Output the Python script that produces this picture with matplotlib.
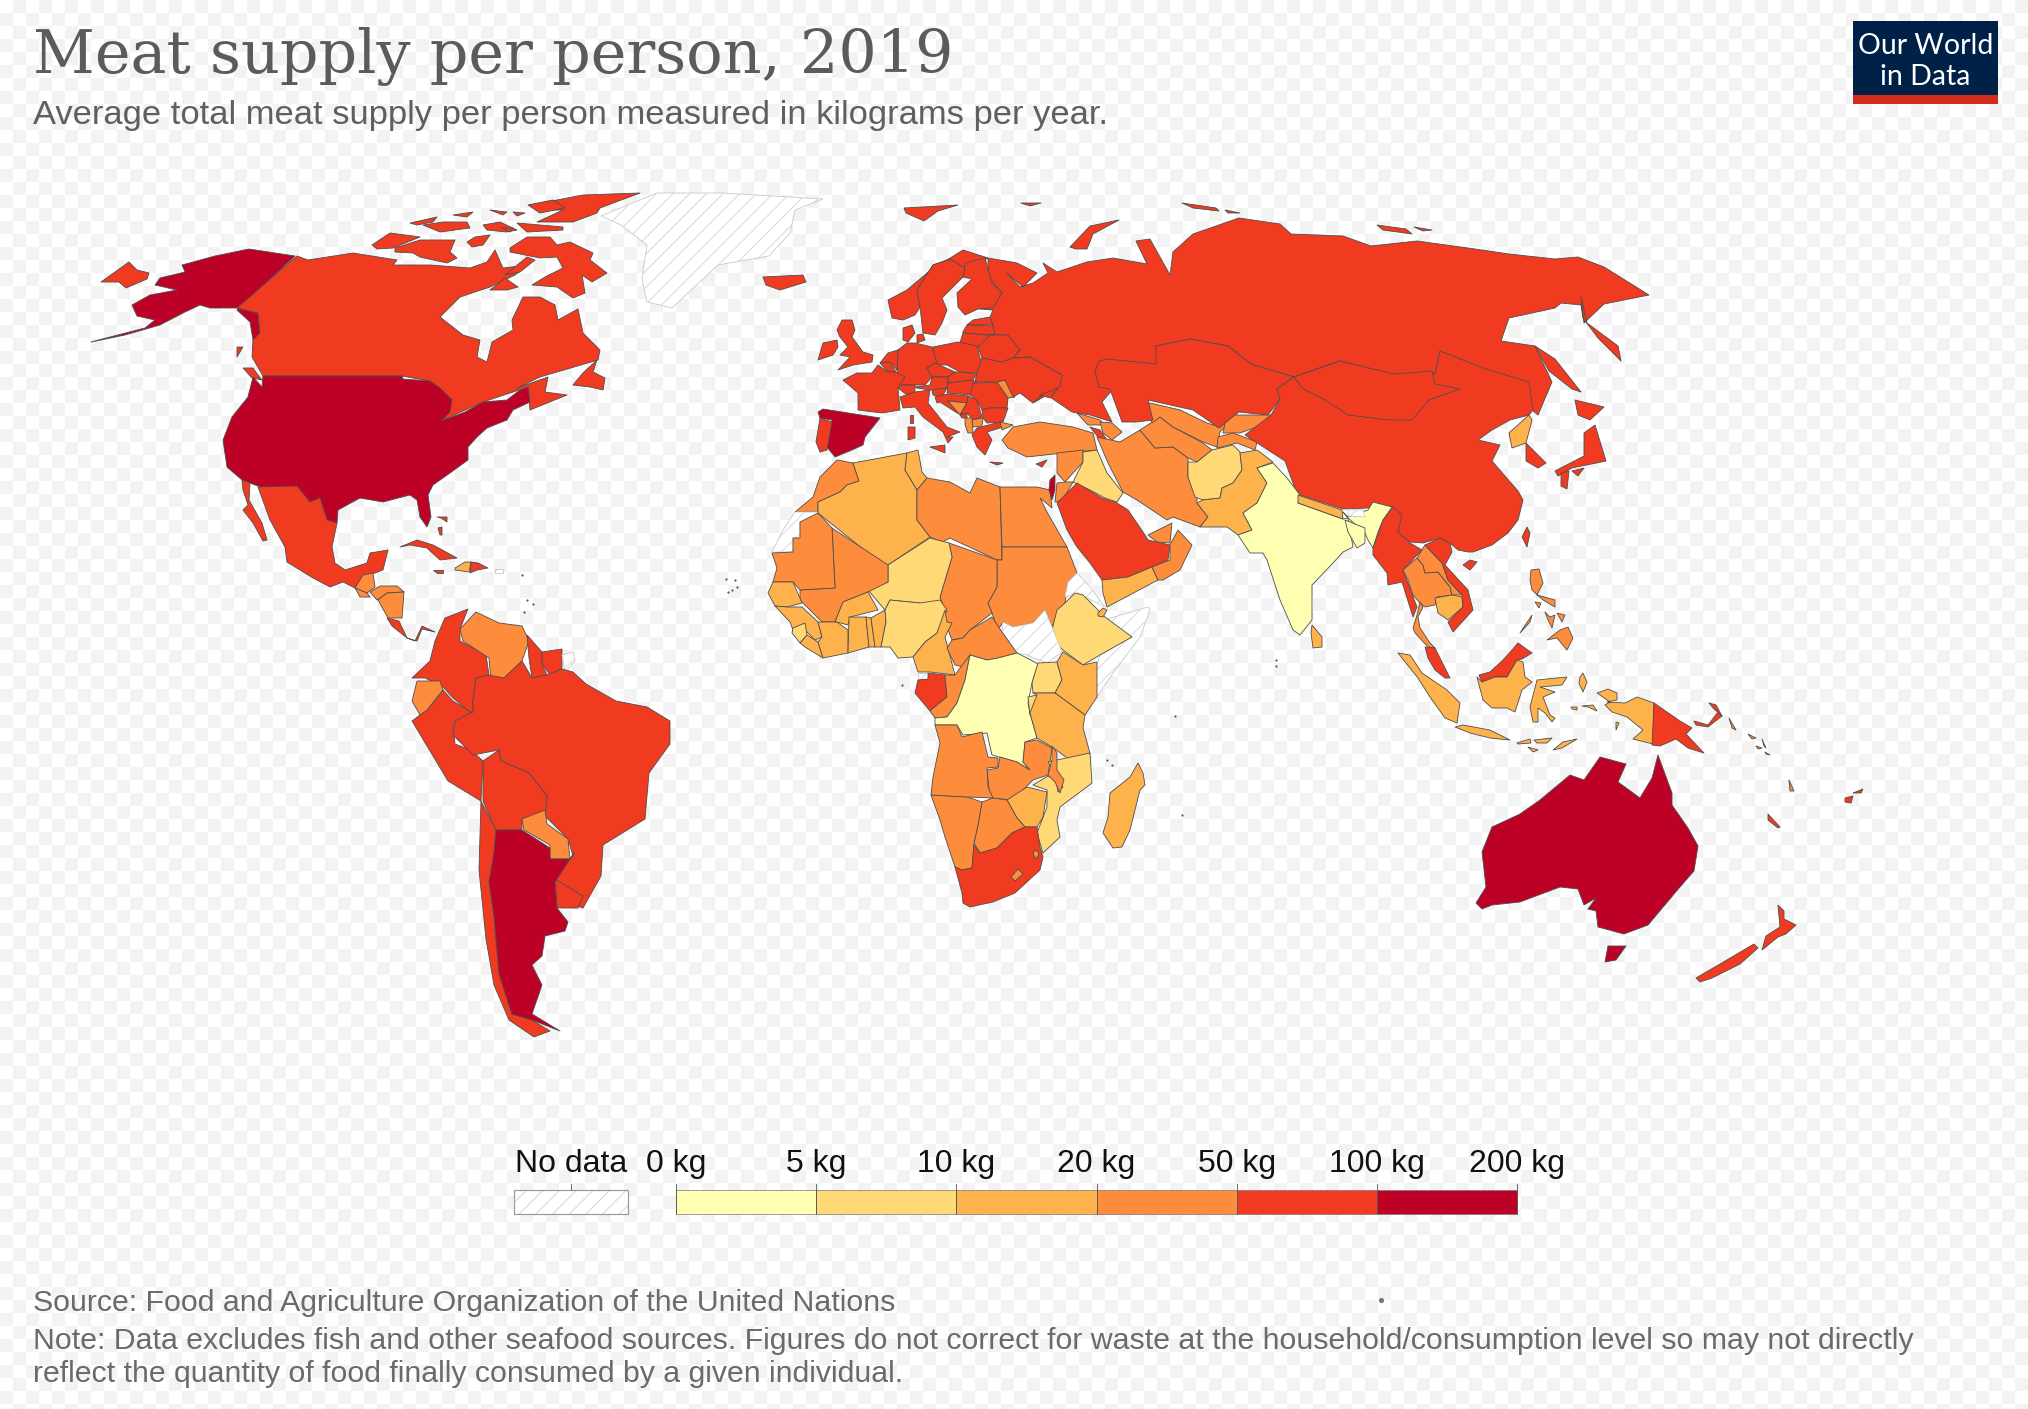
import numpy as np
import matplotlib
matplotlib.use('Agg')
import matplotlib.pyplot as plt
from matplotlib.colors import BoundaryNorm, ListedColormap
from matplotlib.patches import Polygon, Rectangle

americas = {
    'Alaska': [[(295,256),(249,249),(215,256),(182,265),(185,272),(160,278),(155,285),(177,290),(150,295),(132,305),(137,316),(155,320),(145,328),(110,337),(91,342),(125,335),(160,325),(185,312),(200,305),(210,308),(237,308),(258,313),(260,333),(253,340),(250,322),(237,310)]],
    'Canada': [[(297,256),(237,308),(258,313),(260,333),(253,340),(252,357),(263,376),(402,376),(430,381),(452,400),(441,421),(483,402),(528,387),(530,410),(567,395),(545,392),(548,377),(517,388),(540,377),(598,360),(600,350),(583,333),(578,309),(558,320),(555,305),(540,297),(523,297),(512,320),(513,330),(492,342),(487,362),(477,357),(480,340),(463,335),(440,317),(460,297),(490,287),(515,275),(528,265),(503,268),(495,250),(487,262),(470,268),(430,265),(393,265),(397,260),(353,253),(308,260)],
               [(510,248),(527,237),(550,237),(557,245),(570,242),(593,253),(590,260),(607,273),(592,282),(582,275),(585,293),(573,298),(557,287),(532,285),(545,277),(563,268),(557,257),(540,258),(510,252)],
               [(395,248),(420,240),(440,240),(455,240),(450,252),(457,258),(447,263),(420,257),(413,253),(395,252)],
               [(372,245),(390,233),(420,237),(393,248),(377,249)],
               [(467,242),(475,237),(490,235),(483,245),(472,247)],
               [(483,225),(500,222),(517,230),(507,232),(487,230)],
               [(530,205),(557,200),(583,195),(640,193),(600,208),(597,213),(573,222),(537,222),(563,210),(550,210)],
               [(528,205),(553,200),(565,208),(540,213)],
               [(517,223),(563,227),(563,230),(527,232)],
               [(423,225),(443,222),(467,222),(470,228),(440,232)],
               [(410,223),(437,217),(433,222),(417,225)],
               [(453,215),(473,212),(467,217)],
               [(490,210),(507,212),(503,215)],
               [(513,212),(525,213),(517,216)],
               [(502,228),(513,228),(510,232)],
               [(490,290),(505,278),(518,287),(507,290)],
               [(527,257),(535,260),(520,272),(505,275)],
               [(573,385),(583,373),(597,360),(593,372),(605,378),(603,390),(590,387)],
               [(243,368),(253,368),(258,375),(262,380),(252,378)],
               [(237,347),(243,347),(237,357)]],
    'USA': [[(263,376),(402,376),(403,379),(430,381),(440,388),(452,400),(450,412),(441,421),(465,412),(483,402),(507,400),(520,390),(528,387),(530,402),(513,410),(507,420),(487,428),(477,437),(468,447),(468,460),(450,473),(433,485),(428,495),(431,517),(427,527),(420,517),(417,500),(410,495),(383,502),(360,498),(338,510),(337,523),(327,520),(320,498),(310,502),(297,487),(263,488),(242,480),(227,467),(223,440),(232,417),(248,397),(253,377),(262,387)]],
    'Mexico': [[(258,487),(297,486),(310,502),(320,498),(327,520),(337,523),(332,547),(335,563),(345,570),(367,563),(370,553),(388,550),(383,570),(375,573),(363,575),(362,582),(355,588),(343,582),(330,587),(313,578),(287,562),(285,547),(270,520)],
               [(242,480),(250,483),(249,500),(262,523),(267,540),(263,541),(253,523),(243,510),(248,505),(243,490)]],
    'Guatemala': [[(363,575),(373,573),(375,587),(367,593),(355,588)]],
    'El Salvador': [[(355,588),(367,593),(370,597),(360,597)]],
    'Honduras': [[(370,592),(380,586),(397,586),(404,592),(387,593),(377,600)]],
    'Nicaragua': [[(387,593),(404,592),(402,618),(388,618),(378,600)]],
    'Costa Rica': [[(387,618),(399,621),(407,638),(392,626)]],
    'Panama': [[(407,638),(415,641),(422,626),(435,632),(422,629),(417,641)]],
    'Cuba': [[(400,547),(417,540),(433,545),(457,558),(440,560),(427,548),(410,545)]],
    'Haiti': [[(455,568),(465,562),(471,562),(469,572),(455,570)]],
    'Dominican Rep.': [[(471,562),(478,563),(488,568),(477,570),(470,573)]],
    'Jamaica': [[(433,570),(443,570),(443,573),(437,573)]],
    'Puerto Rico': [[(495,569),(503,569),(503,573),(495,573)]],
    'Bahamas': [[(437,517),(447,517),(447,522),(441,518)], [(438,528),(442,527),(442,535),(440,535)]],
    'Colombia': [[(445,618),(468,609),(460,629),(460,641),(486,655),(489,675),(476,678),(473,701),(473,715),(453,698),(443,687),(425,678),(412,678),(430,661),(435,641)]],
    'Venezuela': [[(460,629),(476,612),(499,623),(522,626),(529,641),(522,661),(504,678),(491,681),(489,658),(463,641)]],
    'Guyana': [[(527,635),(542,652),(542,664),(547,675),(532,678),(529,658)]],
    'Suriname': [[(542,652),(562,649),(562,669),(550,675),(542,664)]],
    'French Guiana': [[(562,655),(573,652),(575,661),(565,672)]],
    'Peru': [[(443,690),(453,701),(471,712),(453,727),(455,744),(471,750),(483,761),(481,801),(448,781),(412,721),(420,715),(427,710)]],
    'Ecuador': [[(417,681),(440,681),(443,690),(427,710),(420,715),(412,701)]],
    'Brazil': [[(476,678),(489,675),(504,678),(522,661),(532,678),(547,675),(562,669),(573,672),(586,684),(616,701),(647,707),(670,721),(670,744),(649,773),(645,819),(603,845),(601,876),(583,908),(575,905),(555,879),(573,856),(568,839),(545,816),(547,796),(529,773),(501,761),(499,750),(473,755),(453,735),(455,721),(473,712),(473,701)]],
    'Bolivia': [[(483,761),(499,750),(501,761),(529,773),(547,796),(545,816),(522,819),(522,830),(496,830),(483,801)]],
    'Paraguay': [[(522,819),(545,810),(547,824),(568,839),(570,859),(550,859),(550,845),(524,830)]],
    'Uruguay': [[(555,879),(583,896),(578,908),(557,908)]],
    'Chile': [[(481,801),(496,830),(494,853),(489,882),(494,916),(499,974),(512,1014),(532,1020),(550,1031),(534,1037),(509,1020),(494,985),(486,939),(479,870)]],
    'Argentina': [[(496,830),(522,830),(550,848),(550,859),(570,859),(574,853),(555,882),(557,908),(568,922),(565,931),(545,936),(542,956),(532,965),(542,985),(532,1014),(560,1031),(532,1020),(512,1014),(499,974),(494,916),(489,882),(494,853)]],
    'Greenland': [[(601,216),(657,193),(723,193),(823,199),(795,210),(790,233),(769,256),(718,265),(672,308),(647,302),(642,279),(647,245),(621,225)]],
}
kg_americas = {'Alaska': 124, 'Canada': 91, 'USA': 124, 'Mexico': 68, 'Guatemala': 30, 'El Salvador': 32, 'Honduras': 35, 'Nicaragua': 33, 'Costa Rica': 58, 'Panama': 72, 'Cuba': 51, 'Haiti': 15, 'Dominican Rep.': 70, 'Jamaica': 58, 'Puerto Rico': None, 'Bahamas': 90, 'Colombia': 62, 'Venezuela': 38, 'Guyana': 53, 'Suriname': 55, 'French Guiana': None, 'Peru': 55, 'Ecuador': 42, 'Brazil': 98, 'Bolivia': 73, 'Paraguay': 44, 'Uruguay': 86, 'Chile': 85, 'Argentina': 110, 'Greenland': None}

europe = {
    'Russia': [[(988,258),(1017,263),(1037,273),(1023,287),(1007,273),(1020,287),(1033,283),(1048,273),(1043,263),(1057,272),(1087,262),(1113,258),(1147,264),(1136,241),(1150,239),(1170,275),(1173,252),(1193,234),(1239,218),(1280,224),(1291,234),(1343,236),(1371,246),(1417,241),(1475,249),(1509,254),(1555,259),(1578,257),(1604,267),(1649,295),(1604,304),(1584,323),(1581,297),(1587,323),(1618,346),(1621,361),(1598,338),(1583,318),(1581,305),(1561,303),(1555,308),(1509,318),(1501,341),(1535,346),(1552,382),(1538,415),(1532,410),(1529,397),(1509,379),(1472,364),(1440,351),(1435,374),(1400,377),(1340,361),(1294,377),(1251,364),(1228,346),(1191,339),(1156,346),(1162,364),(1107,361),(1096,371),(1113,389),(1102,402),(1112,422),(1090,415),(1072,412),(1047,395),(1033,403),(1062,375),(1030,357),(1013,358),(1020,350),(1003,335),(990,335),(993,327),(990,317),(993,310),(980,309),(1002,293),(993,283),(988,273)],
               [(101,282),(129,262),(137,270),(149,273),(147,279),(126,288),(119,282)],
               [(1070,247),(1090,226),(1119,220),(1093,234),(1087,249),(1076,249)],
               [(1182,203),(1216,208),(1219,211),(1193,208)],
               [(1225,210),(1240,213),(1228,213)],
               [(1377,225),(1406,229),(1412,234),(1383,230)],
               [(1414,227),(1432,230),(1423,231)],
               [(1535,346),(1555,359),(1581,392),(1572,389),(1549,371)]],
    'Iceland': [[(763,277),(803,275),(806,282),(780,290),(766,285)]],
    'Svalbard': [[(904,208),(958,205),(938,211),(924,221),(906,213)], [(1021,203),(1041,203),(1030,206)]],
    'Norway': [[(988,258),(963,250),(947,260),(927,273),(907,290),(888,300),(892,318),(903,320),(915,315),(920,307),(917,290),(933,265),(950,259),(963,267),(980,263)]],
    'Sweden': [[(933,265),(917,290),(920,307),(923,333),(935,335),(942,323),(947,310),(942,298),(957,283),(963,277),(965,268),(950,259)]],
    'Finland': [[(965,263),(985,258),(992,283),(1002,293),(993,308),(978,309),(965,315),(958,307),(957,293),(972,279),(963,277),(965,268)]],
    'Estonia': [[(973,320),(990,317),(993,325),(967,325)]],
    'Latvia': [[(963,332),(967,325),(993,326),(995,334),(988,335),(963,333)]],
    'Lithuania': [[(963,333),(988,335),(990,338),(978,347),(960,343)]],
    'Belarus': [[(978,347),(990,335),(1008,335),(1020,350),(1013,358),(1002,362),(982,358)]],
    'Poland': [[(933,347),(958,342),(977,346),(982,365),(977,373),(960,372),(947,365),(935,365)]],
    'Germany': [[(907,343),(915,343),(932,347),(937,363),(927,368),(932,377),(925,385),(900,385),(897,370),(898,350)]],
    'Denmark': [[(903,328),(912,325),(915,333),(908,342),(903,340)], [(917,335),(923,334),(925,340),(917,343)]],
    'Netherlands': [[(898,350),(897,370),(890,362),(880,363),(888,353)]],
    'Belgium': [[(880,363),(890,362),(896,372),(888,372)]],
    'France': [[(878,365),(888,372),(896,372),(905,377),(898,388),(900,410),(882,413),(858,410),(858,393),(843,380),(857,373),(872,373)], [(910,415),(913,415),(913,423),(910,423)]],
    'Switzerland': [[(898,388),(900,385),(915,385),(915,392),(907,395)]],
    'Czechia': [[(927,368),(935,363),(955,372),(948,377),(932,377)]],
    'Austria': [[(915,387),(930,385),(932,377),(948,377),(947,388),(930,390),(917,388)]],
    'Slovakia': [[(955,372),(960,372),(977,374),(973,380),(948,383),(948,377)]],
    'Hungary': [[(948,383),(973,380),(977,383),(970,395),(947,393)]],
    'Slovenia': [[(932,390),(947,388),(942,397),(933,395)]],
    'Croatia': [[(935,397),(947,394),(968,396),(967,403),(948,401),(963,415),(957,413),(940,402),(937,403)]],
    'Bosnia': [[(948,401),(967,403),(960,415),(954,408)]],
    'Serbia': [[(968,396),(977,400),(982,417),(973,420),(967,413),(960,415),(967,403)]],
    'Montenegro': [[(960,415),(967,413),(967,418),(962,418)]],
    'Romania': [[(973,383),(997,382),(1008,398),(1007,408),(990,408),(982,410),(977,400),(970,395)]],
    'Moldova': [[(997,382),(1005,380),(1015,397),(1008,398)]],
    'Bulgaria': [[(982,410),(990,408),(1008,408),(1003,422),(987,423),(983,418)]],
    'N. Macedonia': [[(972,420),(983,418),(982,426),(973,427)]],
    'Albania': [[(965,418),(972,418),(973,433),(968,433),(965,425)]],
    'Greece': [[(972,435),(977,428),(1000,422),(1003,427),(987,432),(992,440),(985,455),(977,447)], [(990,462),(1003,463),(997,465)]],
    'Italy': [[(900,397),(915,392),(930,390),(928,403),(947,427),(960,432),(947,437),(953,437),(948,443),(943,432),(923,417),(915,407),(903,408)],
              [(930,447),(945,445),(945,453)], [(908,427),(915,427),(915,438),(908,440)]],
    'Spain': [[(818,412),(823,409),(880,418),(865,437),(863,445),(852,450),(835,457),(827,447),(832,420),(820,418)]],
    'Portugal': [[(820,418),(832,422),(827,450),(820,452),(816,442)]],
    'UK': [[(842,320),(852,320),(855,330),(852,337),(863,352),(873,355),(872,362),(853,365),(838,370),(850,357),(840,355),(848,347),(840,337),(837,330)]],
    'Ireland': [[(823,343),(837,340),(838,347),(833,355),(818,360)]],
    'Ukraine': [[(982,358),(1002,362),(1013,358),(1030,357),(1062,375),(1060,387),(1040,397),(1033,403),(1020,393),(1013,397),(1005,380),(997,382),(975,382),(977,373)], [(1040,395),(1058,388),(1050,398)]],
}
kg_europe = {'Russia': 76, 'Iceland': 84, 'Svalbard': 62, 'Norway': 66, 'Sweden': 62, 'Finland': 74, 'Estonia': 70, 'Latvia': 66, 'Lithuania': 80, 'Belarus': 88, 'Poland': 88, 'Germany': 78, 'Denmark': 70, 'Netherlands': 72, 'Belgium': 58, 'France': 83, 'Switzerland': 63, 'Czechia': 85, 'Austria': 90, 'Slovakia': 62, 'Hungary': 82, 'Slovenia': 78, 'Croatia': 77, 'Bosnia': 37, 'Serbia': 56, 'Montenegro': 77, 'Romania': 68, 'Moldova': 45, 'Bulgaria': 58, 'N. Macedonia': 48, 'Albania': 43, 'Greece': 74, 'Italy': 79, 'Spain': 104, 'Portugal': 94, 'UK': 80, 'Ireland': 78, 'Ukraine': 52}

africa = {
    'Morocco': [[(837,460),(853,463),(859,481),(847,485),(840,492),(818,502),(818,512),(795,512),(813,497),(820,477)]],
    'Western Sahara': [[(795,512),(818,512),(818,522),(800,522),(800,538),(793,538),(793,552),(772,552),(783,530)]],
    'Algeria': [[(853,463),(907,453),(905,470),(917,490),(917,520),(930,537),(888,565),(883,565),(818,513),(818,502),(840,492),(847,485),(859,481)]],
    'Tunisia': [[(907,453),(918,450),(922,472),(927,478),(917,490),(905,470)]],
    'Libya': [[(927,478),(950,482),(970,493),(977,478),(1000,487),(1002,560),(997,560),(950,538),(942,542),(930,537),(917,520),(917,490)]],
    'Egypt': [[(1000,487),(1037,487),(1050,490),(1052,508),(1040,498),(1047,512),(1067,547),(1002,547)]],
    'Sudan': [[(1002,547),(1067,547),(1077,573),(1068,582),(1065,603),(1060,610),(1052,627),(1045,610),(1033,623),(1013,627),(1003,622),(998,630),(992,613),(988,603),(997,587),(997,560),(1002,560)]],
    'Eritrea': [[(1068,582),(1077,573),(1090,587),(1105,607),(1097,603),(1078,593),(1065,597)]],
    'Somalia': [[(1104,620),(1148,607),(1150,610),(1140,637),(1113,673),(1097,697),(1095,670),(1100,655),(1132,637)]],
    'Ethiopia': [[(1075,593),(1083,595),(1105,617),(1132,637),(1100,655),(1083,665),(1063,650),(1050,638),(1057,610),(1065,603)]],
    'Djibouti': [[(1098,613),(1103,608),(1107,610),(1103,617),(1098,616)]],
    'South Sudan': [[(1003,622),(1013,627),(1033,623),(1045,610),(1052,627),(1062,652),(1047,663),(1027,655),(1017,653),(1002,632)]],
    'Chad': [[(949,543),(997,560),(997,587),(988,603),(992,613),(970,630),(963,638),(952,640),(943,617),(940,597),(952,557)]],
    'Niger': [[(888,565),(930,538),(949,543),(952,557),(940,597),(945,610),(920,603),(890,600),(885,610),(868,590),(888,582)]],
    'Mali': [[(832,528),(888,565),(888,582),(868,592),(843,602),(835,622),(822,622),(800,600),(800,590),(835,588)]],
    'Mauritania': [[(800,522),(818,513),(832,528),(835,588),(800,590),(793,582),(773,582),(777,568),(772,553),(793,552),(793,538),(800,538)]],
    'Senegal': [[(773,582),(793,582),(802,603),(787,607),(775,606),(768,593)]],
    'Guinea': [[(775,606),(787,607),(802,607),(818,622),(822,637),(815,640),(807,632),(793,630),(790,622)]],
    'Sierra Leone': [[(793,628),(805,623),(807,635),(800,643),(792,633)]],
    'Liberia': [[(800,643),(807,635),(818,642),(823,658),(805,647)]],
    "Cote d'Ivoire": [[(818,622),(837,622),(848,630),(848,653),(823,658),(818,642),(822,637)]],
    'Burkina Faso': [[(835,622),(843,602),(868,592),(878,610),(850,617),(848,625),(837,622)]],
    'Ghana': [[(849,617),(866,617),(869,647),(848,653)]],
    'Togo': [[(866,617),(871,618),(875,647),(869,647)]],
    'Benin': [[(871,618),(885,610),(886,622),(881,647),(875,647)]],
    'Nigeria': [[(885,610),(890,600),(920,603),(940,600),(947,610),(937,633),(925,642),(913,657),(898,658),(890,647),(881,647),(886,622)]],
    'Cameroon': [[(945,610),(947,622),(952,623),(945,637),(955,675),(930,672),(918,672),(913,657),(925,642),(937,633)]],
    'CAR': [[(952,640),(963,638),(970,630),(992,617),(1002,632),(1017,653),(998,658),(987,660),(970,655),(963,667),(955,665),(947,648)]],
    'Eq. Guinea': [[(918,673),(928,673),(928,679),(918,679)]],
    'Gabon': [[(928,673),(945,675),(947,697),(937,705),(930,711),(915,693),(918,680),(928,679)]],
    'Congo': [[(955,675),(963,664),(970,655),(965,680),(957,703),(947,717),(935,718),(930,711),(937,705),(947,697),(945,675)]],
    'DR Congo': [[(970,655),(987,660),(998,658),(1017,653),(1027,658),(1038,664),(1032,683),(1028,703),(1030,713),(1037,738),(1025,742),(1023,762),(1030,770),(1017,762),(992,755),(987,733),(963,735),(957,725),(935,725),(935,718),(947,717),(957,703),(965,680)]],
    'Uganda': [[(1038,663),(1057,662),(1062,680),(1055,693),(1033,693),(1032,683)]],
    'Rwanda': [[(1028,697),(1037,695),(1037,707),(1030,715)]],
    'Kenya': [[(1057,662),(1063,652),(1083,665),(1097,662),(1097,697),(1085,715),(1055,693),(1062,680)]],
    'Tanzania': [[(1033,693),(1055,693),(1085,715),(1083,728),(1090,753),(1070,760),(1052,747),(1037,738),(1030,713),(1037,695)]],
    'Zambia': [[(1025,742),(1037,740),(1052,748),(1048,775),(1033,780),(1013,800),(990,798),(987,770),(998,768),(1000,757),(1017,762),(1030,770),(1023,762)]],
    'Mozambique': [[(1090,753),(1092,783),(1060,807),(1057,820),(1060,837),(1043,853),(1037,833),(1047,807),(1047,790),(1033,785),(1048,776),(1056,780),(1058,792),(1063,787),(1048,762),(1057,760)]],
    'Malawi': [[(1052,746),(1057,753),(1057,770),(1064,780),(1060,793),(1055,782),(1048,775),(1052,760)]],
    'Zimbabwe': [[(1007,800),(1027,787),(1047,792),(1043,817),(1037,827),(1025,827),(1017,818)]],
    'Botswana': [[(982,802),(993,798),(1007,800),(1017,818),(1025,827),(1012,833),(997,848),(980,853),(974,843),(978,825)]],
    'Namibia': [[(931,795),(967,797),(982,802),(978,825),(974,843),(972,868),(962,870),(955,867),(945,837),(940,820)]],
    'Angola': [[(935,725),(957,725),(962,737),(982,732),(988,757),(998,758),(998,767),(987,768),(988,787),(993,798),(967,797),(931,795),(933,777),(940,743)]],
    'South Africa': [[(955,867),(962,870),(972,868),(974,845),(980,853),(997,848),(1012,833),(1025,827),(1037,827),(1040,847),(1043,857),(1040,870),(1015,893),(993,902),(970,907),(963,903),(962,893)]],
    'Lesotho': [[(1011,877),(1018,869),(1023,874),(1015,881)]],
    'Eswatini': [[(1033,852),(1037,850),(1039,855),(1035,859)]],
    'Madagascar': [[(1138,763),(1143,773),(1145,785),(1140,790),(1130,830),(1122,847),(1113,848),(1103,833),(1108,817),(1110,793),(1130,777)]],
}
kg_africa = {'Morocco': 32, 'Western Sahara': None, 'Algeria': 18, 'Tunisia': 19, 'Libya': 28, 'Egypt': 25, 'Sudan': 28, 'Eritrea': None, 'Somalia': None, 'Ethiopia': 7, 'Djibouti': 18, 'South Sudan': None, 'Chad': 21, 'Niger': 9, 'Mali': 24, 'Mauritania': 30, 'Senegal': 16, 'Guinea': 12, 'Sierra Leone': 8, 'Liberia': 13, "Cote d'Ivoire": 14, 'Burkina Faso': 14, 'Ghana': 15, 'Togo': 13, 'Benin': 15, 'Nigeria': 8, 'Cameroon': 16, 'CAR': 24, 'Eq. Guinea': None, 'Gabon': 55, 'Congo': 38, 'DR Congo': 4, 'Uganda': 9, 'Rwanda': 7, 'Kenya': 14, 'Tanzania': 12, 'Zambia': 21, 'Mozambique': 8, 'Malawi': 22, 'Zimbabwe': 16, 'Botswana': 22, 'Namibia': 33, 'Angola': 28, 'South Africa': 62, 'Lesotho': 25, 'Eswatini': 30, 'Madagascar': 12}

asia = {
    'Turkey': [[(1002,440),(1013,427),(1040,422),(1073,427),(1093,433),(1097,450),(1063,453),(1027,457),(1008,448)], [(1000,422),(1013,425),(1002,430)]],
    'Cyprus': [[(1036,464),(1047,460),(1042,467)]],
    'Georgia': [[(1077,413),(1100,420),(1105,425),(1088,425)]],
    'Armenia': [[(1090,427),(1100,430),(1107,440),(1098,437)]],
    'Azerbaijan': [[(1100,422),(1112,423),(1122,432),(1112,440),(1103,433)]],
    'Syria': [[(1057,453),(1083,450),(1083,462),(1065,482),(1057,473)]],
    'Iraq': [[(1083,452),(1097,450),(1107,473),(1123,493),(1117,502),(1105,498),(1090,490),(1073,482),(1083,462)]],
    'Jordan': [[(1057,483),(1065,482),(1073,482),(1063,500),(1055,502)]],
    'Israel': [[(1050,480),(1055,475),(1055,490),(1052,500),(1049,490)]],
    'Saudi Arabia': [[(1057,503),(1077,483),(1102,498),(1117,503),(1128,510),(1143,532),(1148,540),(1170,545),(1168,560),(1128,577),(1102,580),(1090,563),(1077,547),(1067,530)]],
    'Yemen': [[(1102,580),(1128,577),(1152,567),(1158,580),(1107,607),(1103,593)]],
    'Oman': [[(1152,567),(1170,560),(1170,545),(1178,530),(1192,545),(1180,570),(1163,580),(1158,580)]],
    'UAE': [[(1148,535),(1172,523),(1170,543),(1157,542)]],
    'Iran': [[(1097,437),(1120,442),(1140,430),(1155,448),(1173,447),(1188,458),(1188,477),(1197,497),(1197,503),(1208,517),(1200,527),(1173,517),(1167,520),(1137,500),(1123,492),(1108,463)]],
    'Turkmenistan': [[(1140,430),(1160,417),(1173,427),(1203,443),(1212,450),(1197,462),(1188,458),(1173,447),(1155,448)]],
    'Uzbekistan': [[(1147,403),(1150,403),(1180,410),(1207,423),(1220,427),(1232,418),(1220,432),(1217,447),(1203,442),(1173,427),(1160,417),(1152,423),(1147,410)]],
    'Kazakhstan': [[(1099,361),(1107,359),(1156,364),(1156,346),(1191,339),(1228,346),(1251,364),(1294,377),(1277,389),(1280,399),(1268,415),(1239,412),(1219,428),(1193,410),(1148,400),(1153,420),(1136,422),(1122,422),(1110,389),(1099,387),(1095,371)]],
    'Kyrgyzstan': [[(1225,423),(1235,415),(1273,415),(1257,427),(1240,433),(1223,433)]],
    'Tajikistan': [[(1218,437),(1233,433),(1257,442),(1255,450),(1237,443),(1217,448)]],
    'China': [[(1277,389),(1294,377),(1340,361),(1400,377),(1435,374),(1440,351),(1486,369),(1529,382),(1533,410),(1529,415),(1510,420),(1492,430),(1478,440),(1500,445),(1492,461),(1518,491),(1523,500),(1518,520),(1508,533),(1492,545),(1473,552),(1468,552),(1458,550),(1450,543),(1440,538),(1423,543),(1410,542),(1398,533),(1400,518),(1392,507),(1343,509),(1297,494),(1285,461),(1245,435),(1271,415),(1280,399)],
              [(1470,560),(1477,562),(1470,570),(1463,565)]],
    'Taiwan': [[(1527,527),(1530,533),(1527,547),(1522,537)]],
    'Mongolia': [[(1294,377),(1340,361),(1394,374),(1432,371),(1435,384),(1460,389),(1429,400),(1412,420),(1389,420),(1348,415),(1325,400),(1303,389)]],
    'N. Korea': [[(1529,415),(1509,433),(1512,448),(1526,443),(1532,420)]],
    'S. Korea': [[(1526,443),(1546,463),(1538,468),(1526,461)]],
    'Japan': [[(1595,425),(1606,461),(1572,468),(1558,476),(1555,471),(1584,456),(1584,433)],
              [(1575,400),(1604,407),(1590,420),(1578,415)],
              [(1561,473),(1569,471),(1567,489),(1561,486)],
              [(1572,471),(1584,468),(1578,476)]],
    'Afghanistan': [[(1188,462),(1197,462),(1212,450),(1233,445),(1240,452),(1242,470),(1233,483),(1222,488),(1220,498),(1203,500),(1195,497),(1188,477)]],
    'Pakistan': [[(1240,453),(1257,450),(1273,462),(1257,468),(1267,483),(1257,503),(1243,513),(1252,530),(1238,535),(1227,527),(1200,527),(1208,517),(1197,503),(1203,500),(1220,498),(1222,488),(1233,483),(1242,470)]],
    'India': [[(1257,468),(1273,463),(1287,478),(1300,495),(1298,503),(1343,519),(1348,518),(1353,547),(1343,552),(1333,563),(1312,585),(1312,620),(1300,635),(1293,630),(1280,600),(1267,560),(1263,553),(1250,553),(1238,535),(1252,530),(1243,513),(1257,503),(1267,483)],
              [(1343,512),(1348,517),(1368,510),(1373,502),(1392,507),(1383,520),(1378,532),(1373,548),(1368,540),(1365,533),(1348,518)]],
    'Bangladesh': [[(1345,520),(1365,528),(1365,543),(1357,548),(1348,532)]],
    'Nepal': [[(1298,495),(1342,510),(1343,519),(1298,503)]],
    'Bhutan': [[(1348,510),(1363,510),(1365,517),(1348,516)]],
    'Sri Lanka': [[(1312,625),(1322,637),(1322,647),(1313,648),(1311,633)]],
    'Myanmar': [[(1393,507),(1402,515),(1398,532),(1410,543),(1422,550),(1403,570),(1417,607),(1413,617),(1402,582),(1388,585),(1387,573),(1373,555),(1373,548),(1383,520)]],
    'Thailand': [[(1403,570),(1417,558),(1423,565),(1425,573),(1438,572),(1450,587),(1452,595),(1437,597),(1435,605),(1425,607),(1420,603),(1413,595),(1408,580)],
                 [(1420,602),(1423,607),(1418,617),(1420,628),(1430,643),(1435,648),(1428,647),(1415,633),(1413,628),(1417,615)]],
    'Laos': [[(1417,558),(1425,545),(1442,563),(1448,580),(1462,595),(1452,595),(1450,587),(1438,572),(1425,573),(1423,565)]],
    'Cambodia': [[(1435,598),(1452,595),(1462,597),(1463,607),(1448,620),(1438,613)]],
    'Vietnam': [[(1425,545),(1440,538),(1450,543),(1452,552),(1445,565),(1468,590),(1473,610),(1453,632),(1448,622),(1463,607),(1462,595),(1448,580),(1442,563)]],
    'Malaysia': [[(1425,647),(1435,648),(1447,672),(1450,678),(1445,678),(1435,670),(1428,658)],
                 [(1479,675),(1490,672),(1503,660),(1512,650),(1518,643),(1532,653),(1522,659),(1517,660),(1507,677),(1495,677),(1482,682)]],
    'Indonesia': [[(1477,677),(1482,682),(1495,677),(1507,677),(1517,660),(1523,662),(1525,677),(1532,682),(1522,690),(1515,712),(1507,708),(1492,708),(1483,700)],
                  [(1398,653),(1410,655),(1422,673),(1447,690),(1460,703),(1457,723),(1445,718),(1430,697),(1418,678)],
                  [(1455,727),(1463,725),(1490,730),(1510,740),(1490,738),(1470,733)],
                  [(1517,743),(1530,739),(1531,743),(1518,744)],
                  [(1534,740),(1552,738),(1547,743),(1537,743)],
                  [(1553,750),(1563,742),(1577,739),(1562,748)],
                  [(1528,747),(1538,750),(1533,752)],
                  [(1537,680),(1567,677),(1562,685),(1540,687),(1555,692),(1543,697),(1550,715),(1555,718),(1552,722),(1545,713),(1538,708),(1538,722),(1533,722),(1530,707)],
                  [(1580,677),(1583,673),(1587,682),(1583,692),(1579,683)],
                  [(1582,706),(1593,705),(1597,711),(1588,707)],
                  [(1571,707),(1577,707),(1577,710),(1572,709)],
                  [(1597,693),(1608,689),(1617,693),(1617,700),(1607,702),(1625,703),(1637,697),(1654,703),(1653,744),(1633,739),(1643,730),(1627,717),(1612,712),(1605,705),(1610,702)],
                  [(1616,722),(1619,723),(1616,730)]],
    'Philippines': [[(1531,570),(1539,569),(1543,583),(1537,595),(1555,600),(1555,607),(1543,600),(1532,590),(1530,580)],
                    [(1547,640),(1560,630),(1568,627),(1573,638),(1567,650),(1557,638)],
                    [(1545,612),(1550,617),(1555,615),(1552,628),(1548,620)],
                    [(1557,613),(1565,615),(1562,622)],
                    [(1535,602),(1541,603),(1539,608)],
                    [(1520,633),(1532,615),(1530,622)]],
}
kg_asia = {'Turkey': 38, 'Cyprus': 72, 'Georgia': 40, 'Armenia': 55, 'Azerbaijan': 30, 'Syria': 22, 'Iraq': 9, 'Jordan': 30, 'Israel': 105, 'Saudi Arabia': 52, 'Yemen': 14, 'Oman': 44, 'UAE': 45, 'Iran': 36, 'Turkmenistan': 46, 'Uzbekistan': 38, 'Kazakhstan': 72, 'Kyrgyzstan': 40, 'Tajikistan': 25, 'China': 60, 'Taiwan': 76, 'Mongolia': 96, 'N. Korea': 16, 'S. Korea': 68, 'Japan': 52, 'Afghanistan': 8, 'Pakistan': 14, 'India': 4, 'Bangladesh': 4, 'Nepal': 12, 'Bhutan': None, 'Sri Lanka': 12, 'Myanmar': 55, 'Thailand': 29, 'Laos': 27, 'Cambodia': 19, 'Vietnam': 60, 'Malaysia': 62, 'Indonesia': 15, 'Philippines': 34}

oceania = {
    'Australia': [[(1476,903),(1486,887),(1482,852),(1492,827),(1520,814),(1540,800),(1570,775),(1584,780),(1600,757),(1626,764),(1618,782),(1640,798),(1652,778),(1658,755),(1672,793),(1672,805),(1688,828),(1698,846),(1694,871),(1680,887),(1648,925),(1624,934),(1598,927),(1596,911),(1588,909),(1596,898),(1584,905),(1578,889),(1560,887),(1520,902),(1492,905),(1482,909)],
                  [(1608,946),(1626,946),(1616,960),(1605,962)]],
    'Papua New Guinea': [[(1654,703),(1680,721),(1692,728),(1686,734),(1704,753),(1688,748),(1676,739),(1660,746),(1652,745)],
                         [(1694,721),(1708,725),(1718,712),(1722,716),(1708,727),(1696,725)],
                         [(1709,703),(1716,705),(1722,716),(1714,709)]],
    'Solomon Is.': [[(1729,718),(1736,730),(1732,728)], [(1748,734),(1756,738),(1752,739)],
                    [(1762,739),(1766,748),(1764,746)], [(1756,746),(1762,748),(1758,749)], [(1765,752),(1770,755),(1766,754)]],
    'Vanuatu': [[(1789,780),(1794,791),(1790,791)]],
    'New Caledonia': [[(1768,814),(1780,827),(1778,828),(1768,820)]],
    'Fiji': [[(1845,798),(1853,796),(1851,803),(1845,802)], [(1853,793),(1863,789),(1861,793)]],
    'New Zealand': [[(1778,905),(1784,911),(1784,919),(1796,925),(1786,934),(1778,937),(1762,950),(1766,936),(1780,927)],
                    [(1696,978),(1720,964),(1754,944),(1758,948),(1740,964),(1712,978),(1700,982)]],
}
kg_oceania = {'Australia': 116, 'Papua New Guinea': 58, 'Solomon Is.': 30, 'Vanuatu': 35, 'New Caledonia': 70, 'Fiji': 56, 'New Zealand': 90}

# tiny islands, just dots
dots_x = [726,735,737,732,728,522,527,524,533,902,1107,1112,1182,1276,1276,1175]
dots_y = [579,580,587,590,592,575,600,612,604,685,760,765,815,660,666,716]

bin_edges = [0, 5, 10, 20, 50, 100, 200]
bin_colors = ['#ffffb2', '#fed976', '#feb24c', '#fd8d3c', '#f03b20', '#bd0026']
bin_labels = ['0 kg', '5 kg', '10 kg', '20 kg', '50 kg', '100 kg', '200 kg']

title = 'Meat supply per person, 2019'
subtitle = 'Average total meat supply per person measured in kilograms per year.'
source = 'Source: Food and Agriculture Organization of the United Nations'
note1 = 'Note: Data excludes fish and other seafood sources. Figures do not correct for waste at the household/consumption level so may not directly'
note2 = 'reflect the quantity of food finally consumed by a given individual.'

W, H = 2028, 1409
plt.rcParams['hatch.linewidth'] = 0.5
fig = plt.figure(figsize=(W / 100, H / 100), dpi=100)
fig.patch.set_facecolor('white')

ax = fig.add_axes([0, 0, 1, 1])

# faint checker behind everything
yy, xx = np.indices((H, W))
checker = ((xx // 13 + yy // 13) % 2) * 0.05
ax.imshow(1 - checker, cmap='gray', vmin=0, vmax=1, extent=[0, W, H, 0], aspect='auto', zorder=0, interpolation='nearest')
ax.set_xlim(0, W)
ax.set_ylim(H, 0)
ax.axis('off')

cmap = ListedColormap(bin_colors)
norm = BoundaryNorm(bin_edges, cmap.N)

def draw_region(outlines, values):
    for name, polys in outlines.items():
        v = values[name]
        for p in polys:
            if v is None:
                ax.add_patch(Polygon(p, closed=True, facecolor='#ffffff', edgecolor='#c9c9c9', hatch='//', lw=0.6, joinstyle='round'))
            else:
                ax.add_patch(Polygon(p, closed=True, facecolor=cmap(norm(v)), edgecolor='#4d4d4d', lw=0.6, joinstyle='round'))

draw_region(americas, kg_americas)
draw_region(europe, kg_europe)
draw_region(africa, kg_africa)
draw_region(asia, kg_asia)
draw_region(oceania, kg_oceania)
ax.scatter(dots_x, dots_y, s=2.5, color='#555555', lw=0)

# legend
legend_x = np.linspace(676, 1517, len(bin_edges))
for i in range(len(bin_colors)):
    ax.bar(legend_x[i], 24, width=legend_x[i + 1] - legend_x[i], bottom=1190, align='edge',
           color=bin_colors[i], edgecolor='#777777', lw=0.5)
for x, lab in zip(legend_x, bin_labels):
    ax.plot([x, x], [1184, 1214], color='#555555', lw=0.6)
    ax.text(x, 1172, lab, ha='center', va='baseline', fontsize=23, family='Liberation Sans', color='#111111')
ax.add_patch(Rectangle((514, 1190), 114, 24, facecolor='#ffffff', edgecolor='#c4c4c4', hatch='//', lw=0.8))
ax.add_patch(Rectangle((514, 1190), 114, 24, facecolor='none', edgecolor='#999999', lw=0.8))
ax.plot([571, 571], [1184, 1190], color='#555555', lw=0.6)
ax.text(571, 1172, 'No data', ha='center', va='baseline', fontsize=23, family='Liberation Sans', color='#111111')

# titles and notes
ax.text(33, 73, title, fontsize=43.5, family='DejaVu Serif', color='#5b5b5b', va='baseline')
ax.text(33, 124, subtitle, fontsize=24.8, family='Liberation Sans', color='#5f5f5f', va='baseline')
ax.text(33, 1311, source, fontsize=21.8, family='Liberation Sans', color='#6a6a6a', va='baseline')
ax.text(33, 1349, note1, fontsize=21.8, family='Liberation Sans', color='#6a6a6a', va='baseline')
ax.text(33, 1382, note2, fontsize=21.8, family='Liberation Sans', color='#6a6a6a', va='baseline')
ax.scatter([1381], [1300], s=14, color='#777777', lw=0)

# logo
ax.add_patch(Rectangle((1853, 21), 145, 74, facecolor='#002147', edgecolor='none'))
ax.add_patch(Rectangle((1853, 95), 145, 9, facecolor='#d42b21', edgecolor='none'))
ax.text(1925.5, 54, 'Our World', ha='center', va='baseline', fontsize=20.5, family='Lato', color='white')
ax.text(1925.5, 85, 'in Data', ha='center', va='baseline', fontsize=20.5, family='Lato', color='white')

fig.savefig('out.png', dpi=100)
